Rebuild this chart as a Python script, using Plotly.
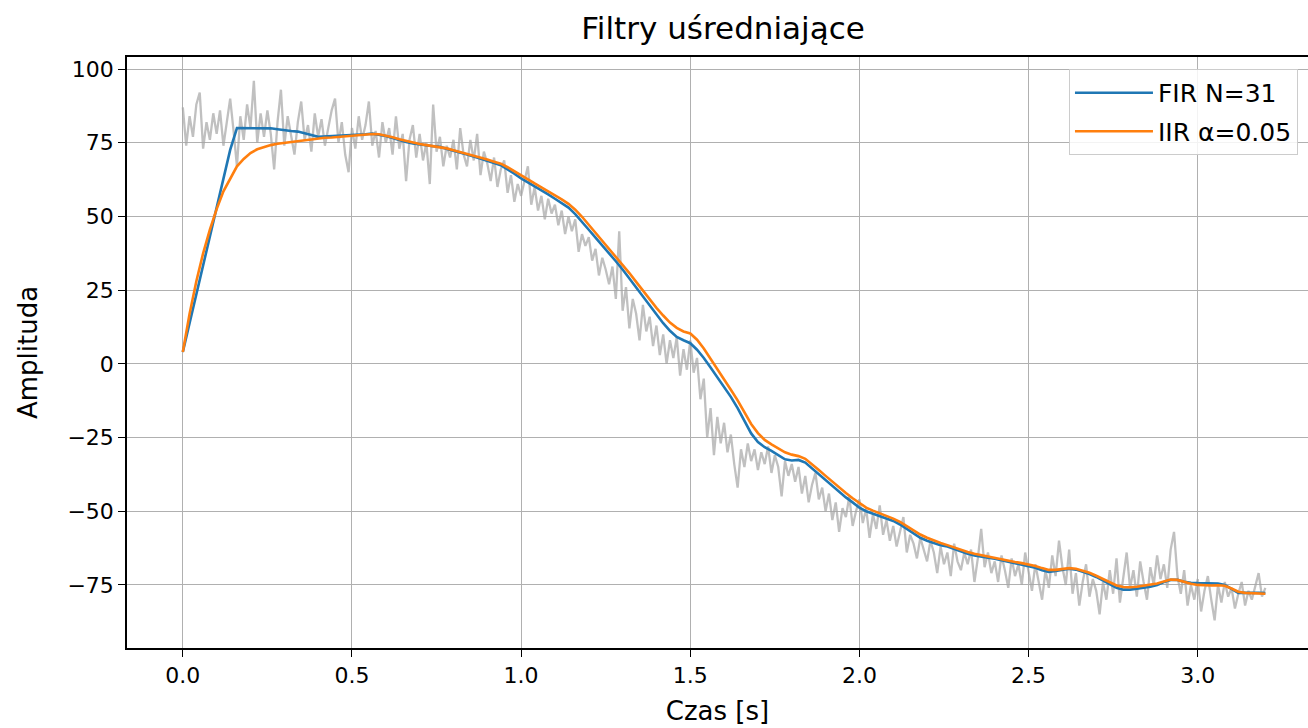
import plotly.graph_objects as go

# ---- data ----
t_raw_step = 0.01
raw_signal = [
    87, 74, 84, 77, 88, 92, 73, 82, 76, 85,
    78, 86, 74, 83, 90, 79, 67, 84, 76, 88,
    80, 96, 75, 85, 77, 86, 78, 66, 82, 93,
    74, 84, 78, 71, 82, 89, 76, 81, 72, 85,
    77, 83, 74, 80, 86, 90, 75, 82, 71, 65,
    80, 73, 84, 76, 81, 89, 74, 79, 70, 82,
    75, 80, 71, 84, 73, 78, 62, 76, 81, 70,
    78, 69, 75, 61, 88, 72, 77, 67, 74, 70,
    76, 66, 80, 71, 67, 76, 69, 78, 64, 72,
    68, 62, 70, 60, 66, 69, 58, 64, 55, 61,
    57, 62, 67, 54, 60, 52, 57, 49, 56, 51,
    54, 47, 52, 44, 50, 45, 49, 38, 44, 40,
    43, 35, 39, 30, 36, 32, 27, 33, 22, 45,
    18, 26, 12, 22, 17, 8, 20, 11, 16, 6,
    13, 3, 10, 0, 8, 2, 9, -4, 5, -2,
    8, -3, 2, -12, -5, -25, -15, -31, -18, -27,
    -20, -30, -24, -34, -42, -29, -35, -27, -33, -29,
    -36, -30, -34, -28, -37, -31, -35, -45, -33, -38,
    -34, -40, -35, -44, -38, -47, -41, -37, -46, -42,
    -50, -44, -53, -47, -57, -49, -52, -45, -55, -50,
    -46, -54, -49, -59, -51, -56, -48, -58, -53, -60,
    -55, -62, -57, -52, -64, -58, -61, -66, -59, -63,
    -67, -60, -64, -71, -62, -68, -64, -72, -61, -67,
    -70, -64, -68, -63, -74, -66, -56, -69, -64, -71,
    -67, -74, -65, -70, -76, -66, -72, -68, -75, -64,
    -71, -77, -68, -74, -80, -70, -76, -65, -72, -60,
    -69, -75, -63, -78, -71, -82, -74, -68, -79, -73,
    -77, -85, -74, -80, -70, -78, -66, -81, -72, -64,
    -76, -70, -79, -67, -74, -80, -69, -75, -65, -73,
    -68, -76, -63, -57, -72, -78, -70, -82, -75, -80,
    -73, -84, -77, -72, -80, -87, -75, -81, -74, -79,
    -76, -83, -78, -74, -82, -77, -80, -75, -71, -79,
    -76,
]

t_filt_step = 0.02
fir_values = [
    4.0, 13.8, 23.6, 33.4, 43.2, 53.0, 62.8, 72.6, 80.0, 80.0,
    80.1, 80.0, 80.0, 79.9, 79.6, 79.2, 79.0, 78.8, 78.3, 77.6,
    77.0, 77.1, 77.2, 77.4, 77.5, 77.6, 77.7, 77.9, 78.1, 77.8,
    77.3, 76.6, 75.9, 75.3, 74.8, 74.4, 74.1, 73.8, 73.6, 73.0,
    72.3, 71.6, 71.0, 70.3, 69.5, 68.8, 68.1, 67.4, 66.0, 64.5,
    62.9, 61.6, 60.2, 58.8, 57.5, 56.0, 54.5, 53.0, 50.8, 48.3,
    45.5, 42.8, 40.2, 37.5, 34.8, 32.0, 29.0, 25.9, 22.8, 19.6,
    16.6, 13.8, 11.2, 9.1, 8.0, 7.0, 4.8, 2.0, -1.2, -4.5,
    -8.0, -11.2, -15.0, -19.5, -23.6, -26.5, -28.3, -29.5, -31.0, -32.4,
    -32.8, -32.6, -33.5, -35.5, -37.5, -39.5, -41.5, -43.5, -45.3, -47.0,
    -48.8, -50.0, -50.8, -51.5, -52.3, -53.3, -54.5, -56.0, -57.6, -59.0,
    -60.0, -60.8, -61.5, -62.0, -62.8, -63.7, -64.4, -65.0, -65.5, -65.8,
    -66.1, -66.6, -67.2, -67.7, -68.1, -68.5, -69.2, -70.0, -70.6, -70.3,
    -69.8, -69.5, -69.8, -70.5, -71.3, -72.3, -73.5, -74.8, -76.0, -76.6,
    -76.6, -76.3, -76.0, -75.6, -75.0, -74.0, -73.3, -73.3, -73.9, -74.3,
    -74.4, -74.4, -74.4, -74.5, -75.0, -76.5, -77.7, -77.7, -77.6, -77.7,
    -77.8,
]
iir_values = [
    4.0, 17.0, 28.0, 37.5, 45.5, 52.5, 58.5, 63.0, 67.0, 69.5,
    71.5, 72.8, 73.6, 74.2, 74.7, 75.0, 75.4, 75.7, 76.0, 76.3,
    76.5, 76.7, 76.8, 77.0, 77.2, 77.4, 77.6, 77.8, 78.0, 77.9,
    77.5, 76.9, 76.2, 75.6, 75.1, 74.6, 74.2, 73.9, 73.6, 73.1,
    72.5, 71.9, 71.3, 70.7, 70.0, 69.3, 68.6, 67.9, 66.7, 65.3,
    63.8, 62.5, 61.2, 59.9, 58.6, 57.2, 55.8, 54.3, 52.3, 49.9,
    47.2, 44.5, 41.9, 39.2, 36.5, 33.7, 30.8, 27.8, 24.8, 21.8,
    19.0, 16.4, 14.0, 12.2, 11.0, 10.3, 8.2, 5.2, 1.8, -1.8,
    -5.4, -8.8, -12.4, -16.5, -20.4, -23.5, -25.8, -27.3, -28.8, -30.0,
    -30.8, -31.3, -32.2, -34.0, -36.0, -38.0, -40.0, -42.0, -43.8, -45.6,
    -47.3, -48.8, -49.8, -50.7, -51.5, -52.5, -53.6, -55.0, -56.5, -57.9,
    -59.0, -60.0, -60.8, -61.5, -62.3, -63.1, -63.8, -64.4, -64.9, -65.3,
    -65.7, -66.2, -66.7, -67.2, -67.6, -68.0, -68.6, -69.3, -69.9, -69.9,
    -69.6, -69.3, -69.5, -70.1, -70.9, -71.9, -73.0, -74.2, -75.2, -75.7,
    -75.8, -75.6, -75.3, -75.0, -74.5, -73.8, -73.2, -73.3, -74.0, -74.6,
    -75.0, -75.2, -75.2, -75.1, -75.3, -76.2, -77.3, -77.7, -77.8, -77.9,
    -78.0,
]

x_ticks = [0.0, 0.5, 1.0, 1.5, 2.0, 2.5, 3.0]
y_ticks = [100, 75, 50, 25, 0, -25, -50, -75]

t_raw = [round(i * t_raw_step, 4) for i in range(len(raw_signal))]
t_filt = [round(i * t_filt_step, 4) for i in range(len(fir_values))]

FONT = "DejaVu Sans"

fig = go.Figure()
fig.add_trace(go.Scatter(x=t_raw, y=raw_signal, mode="lines",
                         line=dict(color="rgba(165,165,165,0.7)", width=2.3),
                         showlegend=False, hoverinfo="skip"))
fig.add_trace(go.Scatter(x=t_filt, y=fir_values, mode="lines", name="FIR N=31",
                         legendgroup="a",
                         line=dict(color="#1f77b4", width=2.6)))
fig.add_trace(go.Scatter(x=t_filt, y=iir_values, mode="lines", name="IIR α=0.05",
                         legendgroup="b",
                         line=dict(color="#ff7f0e", width=2.6)))

axis_common = dict(
    showgrid=True, gridcolor="#b0b0b0", gridwidth=1,
    showline=True, linecolor="black", linewidth=1.5,
    ticks="outside", ticklen=7, tickwidth=1.3, tickcolor="black",
    zeroline=False,
    tickfont=dict(family=FONT, size=22, color="black"),
)

fig.update_layout(
    width=1308, height=728,
    margin=dict(l=127, r=0, t=57, b=80),
    paper_bgcolor="white", plot_bgcolor="white",
    title=dict(text="Filtry uśredniające", x=0.5047, xref="paper", xanchor="center",
               y=0.9615, yref="container", yanchor="middle",
               font=dict(family=FONT, size=31, color="black")),
    xaxis=dict(range=[-0.165, 3.326], tickvals=x_ticks, tickformat=".1f",
               mirror=True,
               title=dict(text="Czas [s]", font=dict(family=FONT, size=26, color="black"),
                          standoff=15),
               **axis_common),
    yaxis=dict(range=[-96.4, 104.1], tickvals=y_ticks, mirror=False,
               title=dict(text="Amplituda", font=dict(family=FONT, size=26, color="black"),
                          standoff=22),
               **axis_common),
    legend=dict(x=0.7976, xanchor="left", y=0.9797, yanchor="top",
                bgcolor="rgba(255,255,255,0.85)", bordercolor="#cccccc", borderwidth=1,
                itemwidth=78, tracegroupgap=3, traceorder="grouped",
                font=dict(family=FONT, size=25, color="black")),
)

# remove the default page margin so the figure sits at the window's top-left corner
fig.write_html("out.html", config={"displayModeBar": False},
               post_script="document.body.style.margin='0';")
